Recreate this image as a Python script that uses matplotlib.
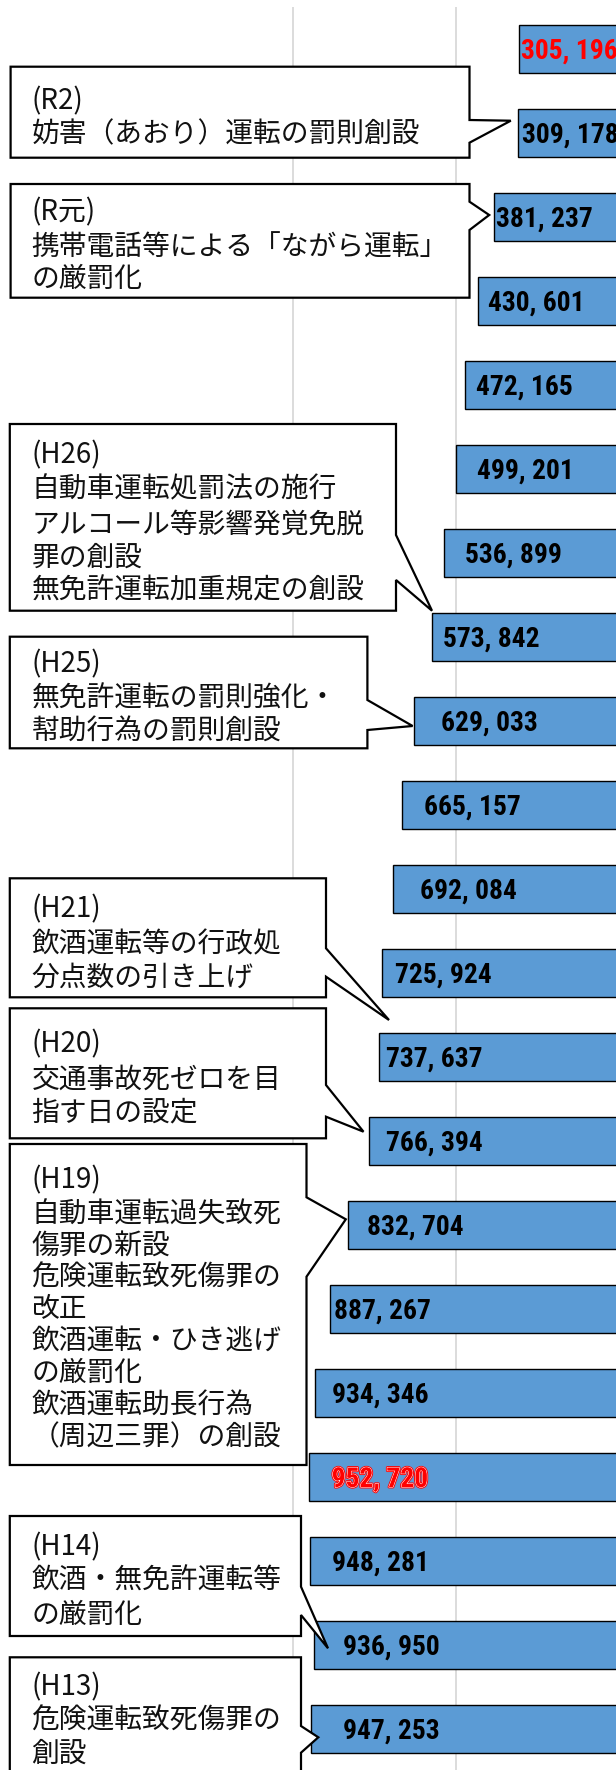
import matplotlib
matplotlib.use('Agg')
import matplotlib.pyplot as plt
from matplotlib.patches import Polygon
import matplotlib.patheffects as pe
import matplotlib.transforms as mtransforms
from matplotlib import font_manager as fm
from matplotlib.textpath import TextPath

# ---------------- data ----------------
years = ['R3', 'R2', 'R元', 'H30', 'H29', 'H28', 'H27', 'H26', 'H25', 'H24', 'H23',
         'H22', 'H21', 'H20', 'H19', 'H18', 'H17', 'H16', 'H15', 'H14', 'H13']
values = [305196, 309178, 381237, 430601, 472165, 499201, 536899, 573842, 629033,
          665157, 692084, 725924, 737637, 766394, 832704, 887267, 934346, 952720,
          948281, 936950, 947253]
grid_ticks = [500000, 1000000]

callout_texts = [
    ['(R2)', '妨害（あおり）運転の罰則創設'],
    ['(R元)', '携帯電話等による「ながら運転」', 'の厳罰化'],
    ['(H26)', '自動車運転処罰法の施行', 'アルコール等影響発覚免脱', '罪の創設', '無免許運転加重規定の創設'],
    ['(H25)', '無免許運転の罰則強化・', '幇助行為の罰則創設'],
    ['(H21)', '飲酒運転等の行政処', '分点数の引き上げ'],
    ['(H20)', '交通事故死ゼロを目', '指す日の設定'],
    ['(H19)', '自動車運転過失致死', '傷罪の新設', '危険運転致死傷罪の', '改正',
     '飲酒運転・ひき逃げ', 'の厳罰化', '飲酒運転助長行為', '（周辺三罪）の創設'],
    ['(H14)', '飲酒・無免許運転等', 'の厳罰化'],
    ['(H13)', '危険運転致死傷罪の', '創設'],
]

# ---------------- layout (pixels) ----------------
W, H = 616, 1770
label_offset_px = [3, 5, 3, 11, 12.7, 22, 22.8, 12.6, 28.7, 23.3, 27.5, 14.1, 8.6,
                   17.7, 20.4, 5.5, 18.5, 24, 22.8, 30.3, 33.4]
# box: (left, top, right, bottom), pointer: (y_upper, tip_x, tip_y, y_lower), line centres
callout_layout = [
    ((10.6, 66.7, 469.5, 157.7), (120, 510.8, 120.7, 142.7), [99, 131.7]),
    ((10.6, 184, 469.5, 297.7), (201.7, 489.2, 215, 230), [210, 245, 276.7]),
    ((9.8, 424, 396, 610.7), (535, 432, 610.7, 580), [453.3, 487.3, 521.7, 555, 588.3]),
    ((9.8, 636.7, 367.4, 748.3), (700, 412.6, 726, 730), [661.7, 696, 728.3]),
    ((9.8, 878.3, 326, 997.3), (948.3, 389, 1020, 976.7), [906.7, 941.7, 975]),
    ((9.8, 1008.3, 326, 1138.3), (1085, 363.5, 1131.7, 1116.7), [1041.7, 1076.7, 1110]),
    ((9.8, 1144, 306.5, 1465), (1197.3, 345.8, 1219.3, 1276.7),
     [1178.3, 1211.7, 1243.3, 1275, 1306.7, 1338.3, 1370, 1403.3, 1435]),
    ((9.8, 1516, 301, 1636), (1586.7, 328, 1648.3, 1615), [1545, 1578.3, 1612.7]),
    ((9.8, 1657.3, 301, 1800), (1726, 318.3, 1737.3, 1752.7), [1685, 1718.3, 1751.7]),
]

TARGET_W, TARGET_H = 91.0, 21.7   # ink size of a value label in the reference, px


def ink(fp, s):
    return TextPath((0, 0), s, size=100, prop=fp).get_extents()


def lining(fp):
    h0 = ink(fp, '0')
    for d in '3479':
        e = ink(fp, d)
        if abs(e.y0 - h0.y0) > 4 or abs(e.y1 - h0.y1) > 4:
            return False
    return True


def pick_label_font():
    preferred, others = [], []
    seen = set()
    for f in fm.fontManager.ttflist:
        nm = f.fname.split('/')[-1]
        if nm in seen:
            continue
        seen.add(nm)
        low = nm.lower()
        if 'italic' in low or 'oblique' in low:
            continue
        if ('bold' in low) and ('condensed' in low or 'narrow' in low) \
                and 'semibold' not in low and 'extrabold' not in low:
            if any(k in low for k in ('liberation', 'roboto', 'notosans', 'dejavu', 'arimo')):
                preferred.append(f.fname)
            else:
                others.append(f.fname)
    for group in (preferred, others):
        best, best_err = None, 1e9
        for fn in group:
            try:
                fp = fm.FontProperties(fname=fn)
                if not lining(fp):
                    continue
                w = ink(fp, '948, 281').width
                h = ink(fp, '0').height
                err = abs(w / h - TARGET_W / TARGET_H)
                if err < best_err:
                    best, best_err = fp, err
            except Exception:
                pass
        if best is not None:
            return best
    return fm.FontProperties(family='DejaVu Sans', weight='bold')


fig = plt.figure(figsize=(W / 100, H / 100), dpi=100)
fig.patch.set_facecolor('white')

ax = fig.add_axes([0, -1 / H, 618.1 / W, 1764 / H])
n = len(values)
ax.barh(range(n), values, height=0.575, color='#5b9bd5', edgecolor='black',
        linewidth=1.0, zorder=2)
ax.set_xlim(1904000, 0)
ax.set_ylim(n - 0.5, -0.5)
ax.set_xticks(grid_ticks)
ax.set_yticks([])
ax.xaxis.grid(True, color='#d9d9d9', linewidth=1.3)
ax.set_axisbelow(True)
ax.tick_params(length=0, labelbottom=False, labelleft=False)
for s in ax.spines.values():
    s.set_visible(False)

fp = pick_label_font()
e_w = ink(fp, '948, 281')
e_h = ink(fp, '0')
size_px = 100.0 * TARGET_W / e_w.width
size_px = min(size_px, 100.0 * 1.1 * TARGET_H / e_h.height)
scale = size_px / 100.0
label_size = size_px * 72 / 100
cap_px = e_h.height * scale
bearing = e_w.x0 * scale

for i, v in enumerate(values):
    tr = mtransforms.offset_copy(ax.transData, fig=fig, x=label_offset_px[i] - bearing,
                                 y=-cap_px / 2, units='dots')
    txt = f"{v:,}".replace(',', ', ')
    color = 'black'
    effects = None
    if i == 0:
        color = '#ff0000'
    if i == 17:
        color = '#ff0000'
        effects = [pe.Stroke(linewidth=2.0, foreground='#ff0000'),
                   pe.Stroke(linewidth=0.7, foreground='white'), pe.Normal()]
    t = ax.text(v, i, txt, transform=tr, ha='left', va='baseline',
                fontproperties=fp, color=color, zorder=5)
    t.set_fontsize(label_size)
    if effects:
        t.set_path_effects(effects)

# ---------------- callouts overlay ----------------
ov = fig.add_axes([0, 0, 1, 1])
ov.set_xlim(0, W)
ov.set_ylim(H, 0)
ov.set_axis_off()
ov.patch.set_alpha(0)

jp_font = ['Noto Sans CJK JP', 'DejaVu Sans']
for lines, (box, ptr, centres) in zip(callout_texts, callout_layout):
    l, t, r, b = box
    y1, tx, ty, y2 = ptr
    poly = Polygon([(l, t), (r, t), (r, y1), (tx, ty), (r, y2), (r, b), (l, b)],
                   closed=True, facecolor='white', edgecolor='black', linewidth=1.6,
                   joinstyle='miter', zorder=3)
    ov.add_patch(poly)
    for line, c in zip(lines, centres):
        ov.text(31.4, c + 10.5, line, ha='left', va='baseline', fontsize=20,
                family=jp_font, color='#111111', zorder=4)

fig.savefig('out.png', dpi=100, facecolor='white')
